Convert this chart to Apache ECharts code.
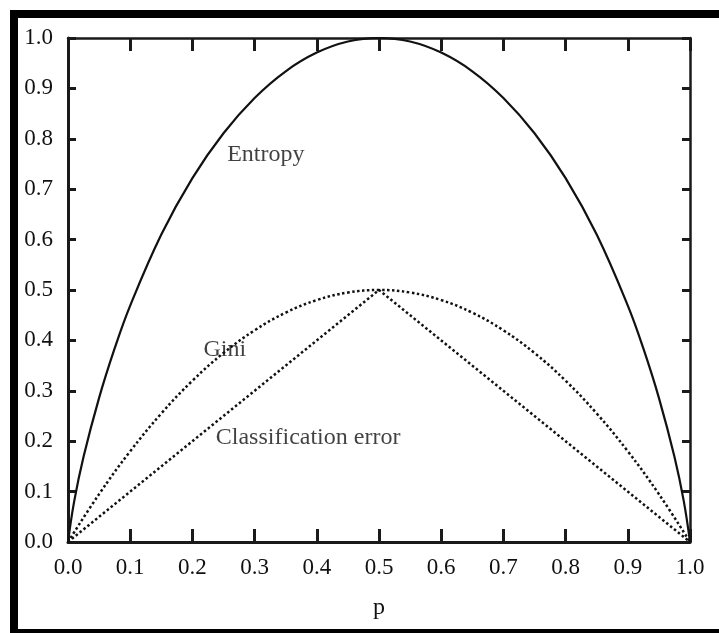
<!DOCTYPE html>
<html>
<head>
<meta charset="utf-8">
<script src="https://cdn.jsdelivr.net/npm/echarts@6/dist/echarts.min.js"></script>
<style>
html,body{margin:0;padding:0;background:#fff;}
#chart{width:719px;height:633px;}
</style>
</head>
<body>
<div id="chart"></div>
<script>
// Values
const entropyP = [0, 0.01, 0.025, 0.05, 0.075, 0.1, 0.15, 0.2, 0.25, 0.3, 0.35, 0.4, 0.45, 0.5, 0.55, 0.6, 0.65, 0.7, 0.75, 0.8, 0.85, 0.9, 0.925, 0.95, 0.975, 0.99, 1];
const entropyValues = [0, 0.081, 0.169, 0.286, 0.384, 0.469, 0.610, 0.722, 0.811, 0.881, 0.934, 0.971, 0.993, 1.0, 0.993, 0.971, 0.934, 0.881, 0.811, 0.722, 0.610, 0.469, 0.384, 0.286, 0.169, 0.081, 0];
const giniP = [0, 0.05, 0.1, 0.15, 0.2, 0.25, 0.3, 0.35, 0.4, 0.45, 0.5, 0.55, 0.6, 0.65, 0.7, 0.75, 0.8, 0.85, 0.9, 0.95, 1];
const giniValues = [0, 0.095, 0.18, 0.255, 0.32, 0.375, 0.42, 0.455, 0.48, 0.495, 0.5, 0.495, 0.48, 0.455, 0.42, 0.375, 0.32, 0.255, 0.18, 0.095, 0];
const errorP = [0, 0.5, 1];
const errorValues = [0, 0.5, 0];
const tickLabels = ['0.0','0.1','0.2','0.3','0.4','0.5','0.6','0.7','0.8','0.9','1.0'];
const annotationNames = ['Entropy', 'Gini', 'Classification error'];
const annotationX = [0.318, 0.252, 0.386];
const annotationY = [0.768, 0.382, 0.206];

const pair = (xs, ys) => xs.map((x, i) => [x, ys[i]]);
const font = '"Liberation Serif", "Times New Roman", serif';
const axisColor = '#1a1a1a';
const textColor = '#111';
const fmt = v => tickLabels[Math.round(v * 10)];

const chart = echarts.init(document.getElementById('chart'));
chart.setOption({
  animation: false,
  backgroundColor: '#fff',
  grid: {left: 68, top: 38, right: 29, bottom: 91, containLabel: false},
  xAxis: [{
    type: 'value', min: 0, max: 1, interval: 0.1, position: 'bottom',
    name: 'p', nameLocation: 'middle', nameGap: 54,
    nameTextStyle: {fontFamily: font, fontSize: 24, color: textColor},
    axisLine: {show: true, onZero: false, lineStyle: {color: axisColor, width: 3}},
    axisTick: {show: true, inside: true, length: 13, lineStyle: {color: axisColor, width: 3}},
    axisLabel: {fontFamily: font, fontSize: 23, color: textColor, margin: 14, formatter: fmt},
    splitLine: {show: false}
  }, {
    type: 'value', min: 0, max: 1, interval: 0.1, position: 'top',
    axisLine: {show: true, onZero: false, lineStyle: {color: axisColor, width: 2.5}},
    axisTick: {show: true, inside: true, length: 13, lineStyle: {color: axisColor, width: 3}},
    axisLabel: {show: false}, splitLine: {show: false}
  }],
  yAxis: [{
    type: 'value', min: 0, max: 1, interval: 0.1, position: 'left',
    axisLine: {show: true, onZero: false, lineStyle: {color: axisColor, width: 3}},
    axisTick: {show: true, inside: true, length: 8, lineStyle: {color: axisColor, width: 3}},
    axisLabel: {fontFamily: font, fontSize: 23, color: textColor, margin: 15, formatter: fmt},
    splitLine: {show: false}
  }, {
    type: 'value', min: 0, max: 1, interval: 0.1, position: 'right',
    axisLine: {show: true, onZero: false, lineStyle: {color: axisColor, width: 2.5}},
    axisTick: {show: true, inside: true, length: 8, lineStyle: {color: axisColor, width: 3}},
    axisLabel: {show: false}, splitLine: {show: false}
  }],
  series: [{
    name: 'Entropy', type: 'line', smooth: 0.4, symbol: 'none',
    data: pair(entropyP, entropyValues),
    lineStyle: {color: '#111', width: 2.2}
  }, {
    name: 'Gini', type: 'line', smooth: 0.4, symbol: 'none',
    data: pair(giniP, giniValues),
    lineStyle: {color: '#111', width: 2.5, type: [2.5, 2.5]}
  }, {
    name: 'Classification error', type: 'line', symbol: 'none',
    data: pair(errorP, errorValues),
    lineStyle: {color: '#111', width: 2.5, type: [2.5, 2.5]}
  }, {
    type: 'scatter', symbolSize: 0, silent: true,
    data: annotationNames.map((n, i) => ({name: n, value: [annotationX[i], annotationY[i]]})),
    label: {show: true, position: 'inside', formatter: '{b}', fontFamily: font, fontSize: 24, color: textColor}
  }],
  graphic: [
    {type: 'rect', shape: {x: 10, y: 10, width: 709, height: 8}, style: {fill: '#000'}},
    {type: 'rect', shape: {x: 10, y: 10, width: 8, height: 623}, style: {fill: '#000'}},
    {type: 'rect', shape: {x: 10, y: 629, width: 709, height: 4}, style: {fill: '#000'}}
  ]
});
</script>
</body>
</html>
